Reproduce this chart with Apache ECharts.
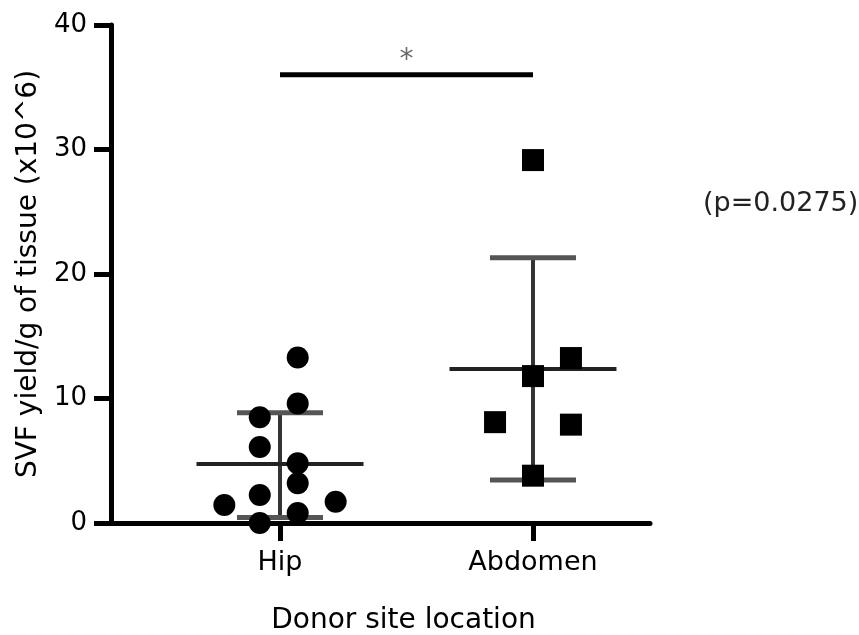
<!DOCTYPE html>
<html>
<head>
<meta charset="utf-8">
<script src="https://cdn.jsdelivr.net/npm/echarts@6/dist/echarts.min.js"></script>
<style>html,body{margin:0;padding:0;background:#fff}#c{width:859px;height:635px}</style>
</head>
<body>
<div id="c"></div>
<script>
// ---- data ----
const categories = ['Hip', 'Abdomen'];
const categoryPos = [1, 2];
const hipValues  = [13.3, 9.6, 8.5, 6.1, 4.8, 3.2, 2.25, 1.45, 1.7, 0.8, 0.0];
const hipJitter  = [0.07, 0.07, -0.08, -0.08, 0.07, 0.07, -0.08, -0.22, 0.22, 0.07, -0.08];
const abdValues  = [29.15, 13.25, 11.8, 8.1, 7.9, 3.8];
const abdJitter  = [0, 0.15, 0, -0.15, 0.15, 0];
const means      = [4.74, 12.37];
const sdLow      = [0.45, 3.45];
const sdHigh     = [8.85, 21.3];
const yTicks     = [0, 10, 20, 30, 40];
const sigY       = 36;
const sigLabel   = '*';
const pText      = '(p=0.0275)';

const FONT = 'DejaVu Sans';
const hipData = hipValues.map((v, i) => [categoryPos[0] + hipJitter[i], v]);
const abdData = abdValues.map((v, i) => [categoryPos[1] + abdJitter[i], v]);
const barData = categoryPos.map((x, i) => [x, means[i], sdLow[i], sdHigh[i]]);

const chart = echarts.init(document.getElementById('c'));
chart.setOption({
  animation: false,
  backgroundColor: '#fff',
  grid: { left: 111, right: 209, top: 25, bottom: 112, containLabel: false, outerBoundsMode: 'none' },
  xAxis: {
    type: 'value', min: 0.332, max: 2.4625,
    name: 'Donor site location', nameLocation: 'middle', nameGap: 84,
    nameTextStyle: { fontFamily: FONT, fontSize: 28, color: '#000', padding: [0, 0, 0, 46] },
    axisLine: { onZero: false, lineStyle: { color: '#000', width: 5 } },
    axisTick: { customValues: categoryPos, length: 18, lineStyle: { color: '#000', width: 5 } },
    axisLabel: { customValues: categoryPos, margin: 26, fontFamily: FONT, fontSize: 27, color: '#000',
      formatter: v => categories[categoryPos.indexOf(Math.round(v))] || '' },
    splitLine: { show: false }
  },
  yAxis: {
    type: 'value', min: yTicks[0], max: yTicks[yTicks.length - 1], interval: 10,
    name: 'SVF yield/g of tissue (x10^6)', nameLocation: 'middle', nameGap: 60,
    nameTextStyle: { fontFamily: FONT, fontSize: 28, color: '#000' },
    axisLine: { onZero: false, lineStyle: { color: '#000', width: 5 } },
    axisTick: { length: 17, lineStyle: { color: '#000', width: 5 } },
    axisLabel: { margin: 24, fontFamily: FONT, fontSize: 26, color: '#000' },
    splitLine: { show: false }
  },
  graphic: [{
    type: 'text', left: 703, top: 190,
    style: { text: pText, font: '27px "' + FONT + '"', fill: '#222' }
  }],
  series: [
    {
      type: 'custom', z: 2,
      data: barData,
      renderItem: function (params, api) {
        const x = api.value(0), m = api.value(1), lo = api.value(2), hi = api.value(3);
        const capW = 0.17, meanW = 0.33;
        const pLo = api.coord([x, lo]), pHi = api.coord([x, hi]);
        const cl = api.coord([x - capW, lo]), cr = api.coord([x + capW, lo]);
        const hl = api.coord([x - capW, hi]), hr = api.coord([x + capW, hi]);
        const ml = api.coord([x - meanW, m]), mr = api.coord([x + meanW, m]);
        return { type: 'group', children: [
          { type: 'line', shape: { x1: pLo[0], y1: pLo[1], x2: pHi[0], y2: pHi[1] }, style: { stroke: '#333', lineWidth: 4 } },
          { type: 'line', shape: { x1: cl[0], y1: cl[1], x2: cr[0], y2: cr[1] }, style: { stroke: '#555', lineWidth: 5 } },
          { type: 'line', shape: { x1: hl[0], y1: hl[1], x2: hr[0], y2: hr[1] }, style: { stroke: '#555', lineWidth: 5 } },
          { type: 'line', shape: { x1: ml[0], y1: ml[1], x2: mr[0], y2: mr[1] }, style: { stroke: '#222', lineWidth: 4 } }
        ]};
      }
    },
    {
      type: 'line', z: 2, symbol: 'none', silent: true,
      data: [[categoryPos[0], sigY], [categoryPos[1], sigY]],
      lineStyle: { color: '#000', width: 5 }
    },
    {
      type: 'scatter', z: 3, symbolSize: 1, itemStyle: { color: 'rgba(0,0,0,0)' },
      data: [[(categoryPos[0] + categoryPos[1]) / 2, sigY]],
      label: { show: true, position: 'top', distance: 0, formatter: sigLabel,
        fontFamily: FONT, fontSize: 28, color: '#444' }
    },
    {
      type: 'scatter', z: 5, symbol: 'circle', symbolSize: 22,
      itemStyle: { color: '#000', opacity: 1 }, data: hipData
    },
    {
      type: 'scatter', z: 5, symbol: 'rect', symbolSize: 22,
      itemStyle: { color: '#000', opacity: 1 }, data: abdData
    }
  ]
});
</script>
</body>
</html>
